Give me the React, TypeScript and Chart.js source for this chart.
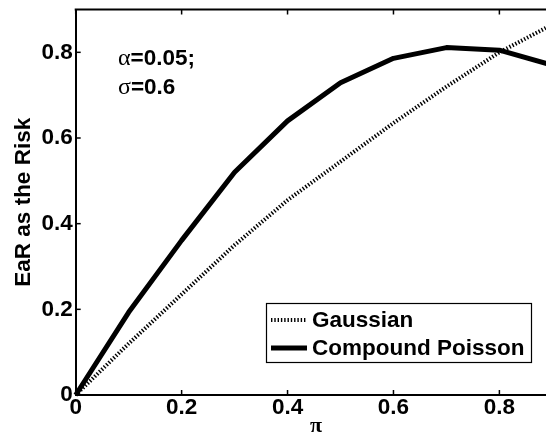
import React, { useEffect, useRef } from "react";
import { Chart, registerables } from "chart.js";

Chart.register(...registerables);

const piValues = [0, 0.1, 0.2, 0.3, 0.4, 0.5, 0.6, 0.7, 0.8, 0.9];
const gaussian = [0, 0.12, 0.235, 0.35, 0.455, 0.545, 0.635, 0.72, 0.8, 0.865];
const compoundPoisson = [0, 0.193, 0.361, 0.52, 0.64, 0.729, 0.786, 0.811, 0.805, 0.77];
const xTicks = [0, 0.2, 0.4, 0.6, 0.8];
const yTicks = [0, 0.2, 0.4, 0.6, 0.8];
const seriesLabels = ["Gaussian", "Compound Poisson"];
const xTitle = "π";
const yTitle = "EaR as the Risk";
const noteLines = [
  ["α", "=0.05;"],
  ["σ", "=0.6"],
];

const SANS = '"Liberation Sans", Arial, Helvetica, sans-serif';
const SERIF = '"Liberation Serif", "DejaVu Serif", serif';

const decorPlugin = {
  id: "decor",
  afterDraw(chart: any) {
    const ctx = chart.ctx;
    const { left, right, top, bottom } = chart.chartArea;
    const xs = chart.scales.x;
    const ys = chart.scales.y;
    ctx.save();
    ctx.strokeStyle = "#000";
    ctx.lineWidth = 2;
    // frame: top border
    ctx.beginPath();
    ctx.moveTo(left - 1, top);
    ctx.lineTo(right + 2, top);
    ctx.stroke();
    // inward ticks
    ctx.lineWidth = 1.5;
    const tl = 5;
    xTicks.forEach((v) => {
      const px = xs.getPixelForValue(v);
      ctx.beginPath();
      ctx.moveTo(px, bottom);
      ctx.lineTo(px, bottom - tl);
      ctx.moveTo(px, top);
      ctx.lineTo(px, top + tl);
      ctx.stroke();
    });
    yTicks.forEach((v) => {
      const py = ys.getPixelForValue(v);
      ctx.beginPath();
      ctx.moveTo(left, py);
      ctx.lineTo(left + tl, py);
      ctx.stroke();
    });

    // axis titles
    ctx.fillStyle = "#000";
    ctx.textAlign = "center";
    ctx.textBaseline = "middle";
    ctx.font = `bold 22px ${SERIF}`;
    ctx.fillText(xTitle, 316, 426);
    ctx.save();
    ctx.translate(24, (top + bottom) / 2);
    ctx.rotate(-Math.PI / 2);
    ctx.font = `bold 22.5px ${SANS}`;
    ctx.fillText(yTitle, 0, 0);
    ctx.restore();

    // annotation
    ctx.textAlign = "left";
    noteLines.forEach((parts, i) => {
      const y = 59 + i * 28.5;
      let x = 118;
      ctx.font = `24px ${SERIF}`;
      ctx.fillText(parts[0], x, y);
      x += ctx.measureText(parts[0]).width;
      ctx.font = `bold 22.5px ${SANS}`;
      ctx.fillText(parts[1], x, y);
    });

    // legend
    const bx = 266.5, by = 303.5, bw = 265, bh = 59;
    ctx.fillStyle = "#fff";
    ctx.fillRect(bx, by, bw, bh);
    ctx.strokeStyle = "#000";
    ctx.lineWidth = 1.2;
    ctx.strokeRect(bx, by, bw, bh);
    const rows = [320, 348];
    chart.data.datasets.forEach((ds: any, i: number) => {
      const y = rows[i];
      ctx.save();
      ctx.strokeStyle = ds.borderColor;
      ctx.lineWidth = ds.borderWidth;
      ctx.lineCap = "butt";
      ctx.setLineDash(ds.borderDash || []);
      ctx.beginPath();
      ctx.moveTo(271, y);
      ctx.lineTo(307, y);
      ctx.stroke();
      ctx.restore();
      ctx.fillStyle = "#000";
      ctx.font = `bold 22.5px ${SANS}`;
      ctx.textBaseline = "middle";
      ctx.fillText(ds.label, 312, y + 1);
    });
    ctx.restore();
  },
};

export default function App() {
  const ref = useRef<HTMLCanvasElement>(null);
  useEffect(() => {
    const canvas = ref.current!;
    const chart = new Chart(canvas, {
      type: "line",
      data: {
        datasets: [
          {
            label: seriesLabels[0],
            data: piValues.map((x, i) => ({ x, y: gaussian[i] })),
            borderColor: "#000",
            borderWidth: 4,
            borderDash: [1.4, 1.9],
            borderCapStyle: "butt",
            pointRadius: 0,
            tension: 0,
            clip: false,
          },
          {
            label: seriesLabels[1],
            data: piValues.map((x, i) => ({ x, y: compoundPoisson[i] })),
            borderColor: "#000",
            borderWidth: 5,
            pointRadius: 0,
            tension: 0,
            borderJoinStyle: "round",
            clip: false,
          },
        ],
      },
      options: {
        responsive: false,
        animation: false,
        devicePixelRatio: 1,
        layout: { padding: { top: 9.5, right: 0, left: 0, bottom: 0 } },
        plugins: {
          legend: { display: false },
          tooltip: { enabled: false },
          title: { display: false },
        },
        scales: {
          x: {
            type: "linear",
            min: 0,
            max: 0.888,
            afterFit: (s: any) => {
              s.height = 49;
              s.paddingLeft = 0;
              s.paddingRight = 0;
            },
            afterBuildTicks: (s: any) => {
              s.ticks = xTicks.map((v) => ({ value: v }));
            },
            grid: { display: true, drawOnChartArea: false, drawTicks: false },
            border: { display: true, color: "#000", width: 2 },
            ticks: {
              color: "#000",
              padding: -1,
              maxRotation: 0,
              font: { family: SANS, size: 22.5, weight: "bold" },
              callback: (v: any) => String(v),
            },
          },
          y: {
            type: "linear",
            min: 0,
            max: 0.9,
            afterFit: (s: any) => {
              s.width = 75.7;
              s.paddingTop = 0;
              s.paddingBottom = 0;
            },
            afterBuildTicks: (s: any) => {
              s.ticks = yTicks.map((v) => ({ value: v }));
            },
            grid: { display: true, drawOnChartArea: false, drawTicks: false },
            border: { display: true, color: "#000", width: 2 },
            ticks: {
              color: "#000",
              padding: 3,
              font: { family: SANS, size: 22.5, weight: "bold" },
              callback: (v: any) => String(v),
            },
          },
        },
      },
      plugins: [decorPlugin],
    } as any);
    return () => chart.destroy();
  }, []);
  return (
    <canvas
      ref={ref}
      width={546}
      height={444}
      style={{ position: "absolute", left: 0, top: 0, display: "block", background: "#fff" }}
    />
  );
}
